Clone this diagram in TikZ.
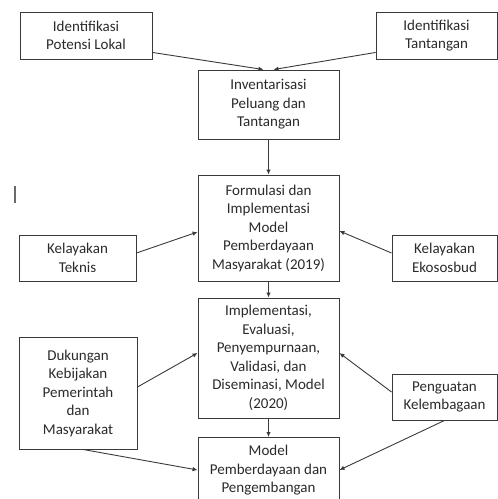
\documentclass[tikz,border=0pt]{standalone}
\usepackage{fontspec}
\setmainfont{Carlito}
\usetikzlibrary{arrows.meta,calc}
\definecolor{linec}{HTML}{3A3A3A}
\definecolor{txtc}{HTML}{2A2A2A}
\definecolor{markc}{HTML}{6A6A6A}
\newcommand{\fsz}{\fontsize{15pt}{18.5pt}\selectfont}
\tikzset{
  box/.style={draw=linec, line width=0.9pt, align=center, font=\fsz, text=txtc, inner sep=0pt},
  conn/.style={draw=linec, line width=0.9pt, -{Latex[length=5pt,width=4.5pt]}}
}
\begin{document}
\begin{tikzpicture}[x=1pt,y=-1pt]
\useasboundingbox (0,0) rectangle (498,499);
\clip (0,0) rectangle (498,499);
% boxes
\node[box, minimum width=132pt, minimum height=47pt] (pot) at (86,35.5) {Identifikasi\\Potensi Lokal};
\node[box, minimum width=121pt, minimum height=47pt] (tan) at (436.5,35.5) {Identifikasi\\Tantangan};
\node[box, minimum width=141pt, minimum height=69pt] (inv) at (268.5,104.5) {Inventarisasi\\Peluang dan\\Tantangan};
\node[box, minimum width=141pt, minimum height=106pt] (form) at (268.5,228) {Formulasi dan\\Implementasi\\Model\\Pemberdayaan\\Masyarakat (2019)};
\node[box, minimum width=117pt, minimum height=46pt] (tek) at (77.5,258) {Kelayakan\\Teknis};
\node[box, minimum width=105pt, minimum height=46pt] (eko) at (444.5,258) {Kelayakan\\Ekososbud};
\node[box, minimum width=141pt, minimum height=120pt] (impl) at (268.5,358) {Implementasi,\\Evaluasi,\\Penyempurnaan,\\Validasi, dan\\Diseminasi, Model\\(2020)};
\node[box, minimum width=118pt, minimum height=112pt] (duk) at (78,393) {Dukungan\\Kebijakan\\Pemerintah\\dan\\Masyarakat};
\node[box, minimum width=105pt, minimum height=46pt] (pen) at (444.5,397) {Penguatan\\Kelembagaan};
\node[box, anchor=north, minimum width=141pt, inner ysep=8pt] (mod) at (268.5,437) {Model\\Pemberdayaan dan\\Pengembangan\rule[-60pt]{0pt}{1pt}};
% stray mark
\fill[markc] (13.8,186) rectangle (16.2,203);
% connectors
\draw[conn] ($(pot.south east)+(0,-7)$) -- ($(inv.north)+(-5,0)$);
\draw[conn] ($(tan.south west)+(0,-7)$) -- ($(inv.north)+(5,0)$);
\draw[conn] (inv.south) -- (form.north);
\draw[conn] ($(tek.east)+(0,-5)$) -- ($(form.west)+(0,4)$);
\draw[conn] ($(eko.west)+(0,-5)$) -- ($(form.east)+(0,3)$);
\draw[conn] (form.south) -- (impl.north);
\draw[conn] ($(duk.east)+(0,-6)$) -- ($(impl.west)+(0,-5)$);
\draw[conn] ($(pen.west)+(0,-5)$) -- ($(impl.east)+(0,-5)$);
\draw[conn] (impl.south) -- (mod.north);
\draw[conn] ($(duk.south)+(5,0)$) -- ($(mod.north west)+(0,33)$);
\draw[conn] (pen.south) -- ($(mod.north east)+(0,33)$);
\end{tikzpicture}
\end{document}
